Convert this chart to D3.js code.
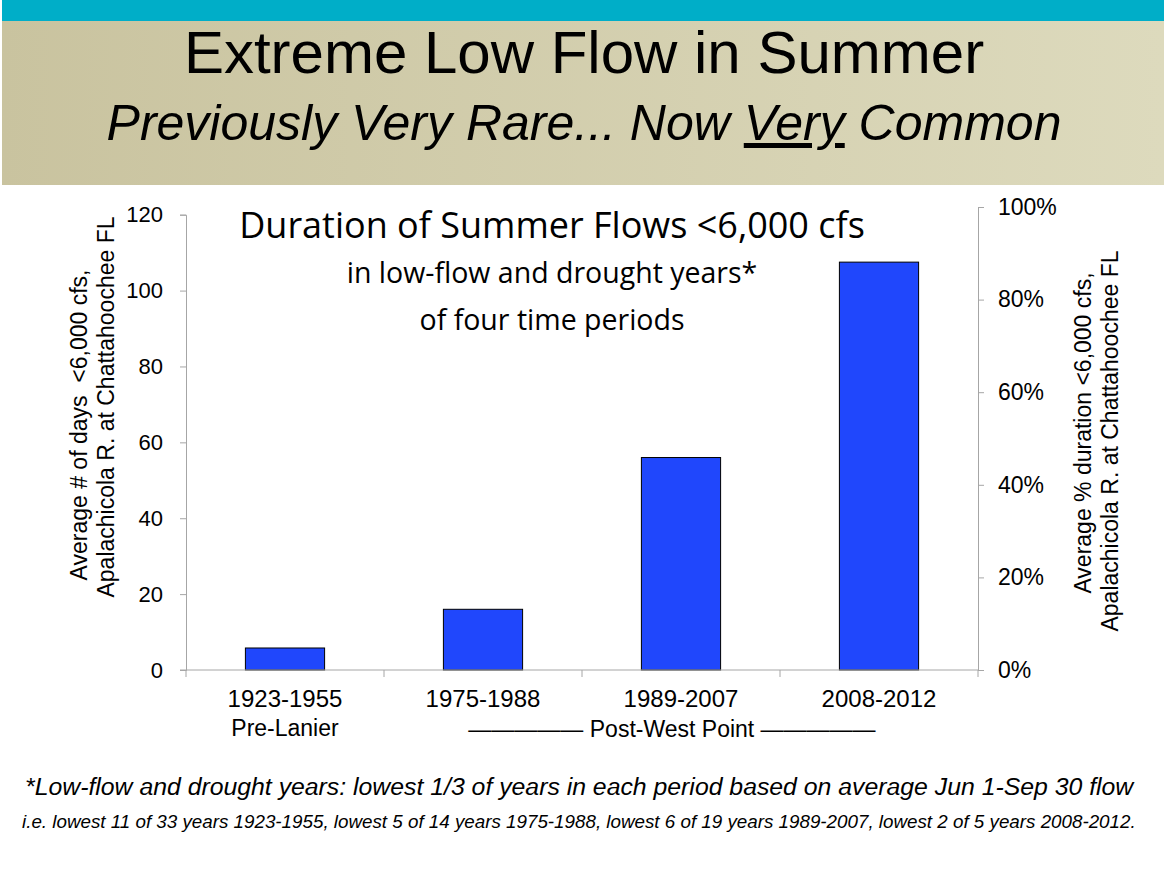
<!DOCTYPE html>
<html>
<head>
<meta charset="utf-8">
<script src="https://cdn.jsdelivr.net/npm/d3@7"></script>
<style>
  body { margin: 0; background: #fff; }
  .axis path, .axis line { stroke: #a6a6a6; }
  .axis text { fill: #000; }
</style>
</head>
<body>
<div id="GraphHolder"></div>
<script>
// chart data
var periods = ["1923-1955", "1975-1988", "1989-2007", "2008-2012"];
var avgDays = [5.8, 16.0, 56.0, 107.5];
var dayTicks = [0, 20, 40, 60, 80, 100, 120];
var pctTicks = [0, 0.2, 0.4, 0.6, 0.8, 1.0];
var subLabels = ["Pre-Lanier"];

var W = 1164, H = 875;
var plot = {left: 186, right: 978, top: 214.7, bottom: 670};

var svg = d3.select("#GraphHolder").append("svg")
    .attr("width", W)
    .attr("height", H);

// header background
var defs = svg.append("defs");
var grad = defs.append("linearGradient").attr("id", "hdr")
    .attr("x1", "0%").attr("x2", "100%").attr("y1", "0%").attr("y2", "0%");
grad.append("stop").attr("offset", "0%").attr("stop-color", "#c9c39f");
grad.append("stop").attr("offset", "100%").attr("stop-color", "#dddabd");

svg.append("rect").attr("x", 2).attr("y", 20).attr("width", W - 2).attr("height", 165)
    .attr("fill", "url(#hdr)");
svg.append("rect").attr("x", 2).attr("y", 0).attr("width", W - 2).attr("height", 21)
    .attr("fill", "#00aec8");

svg.append("text")
    .attr("x", 584).attr("y", 73)
    .attr("text-anchor", "middle")
    .style("font-family", "Liberation Sans, Arial, sans-serif")
    .style("font-size", "60px")
    .text("Extreme Low Flow in Summer");

var sub = svg.append("text")
    .attr("x", 584).attr("y", 140)
    .attr("text-anchor", "middle")
    .style("font-family", "Liberation Sans, Arial, sans-serif")
    .style("font-size", "50px")
    .style("font-style", "italic");
sub.append("tspan").text("Previously Very Rare... Now ");
sub.append("tspan").style("text-decoration", "underline").text("Very");
sub.append("tspan").text(" Common");

// scales
var x = d3.scaleBand()
    .domain(periods)
    .range([plot.left, plot.right])
    .paddingInner(0.6)
    .paddingOuter(0.3);
var y = d3.scaleLinear().domain([0, 120]).range([plot.bottom, plot.top]);
var yPct = d3.scaleLinear().domain([0, 1]).range([plot.bottom, 207]);

// bars
svg.selectAll(".bar")
    .data(avgDays)
    .enter().append("rect")
    .attr("class", "bar")
    .attr("x", function(d, i) { return x(periods[i]); })
    .attr("width", x.bandwidth())
    .attr("y", function(d) { return y(d); })
    .attr("height", function(d) { return y(0) - y(d); })
    .style("fill", "#2047fc")
    .style("stroke", "#000")
    .style("stroke-width", 1);

// left axis
var yAxisG = svg.append("g")
    .attr("class", "axis")
    .attr("transform", "translate(" + plot.left + ",0)")
    .call(d3.axisLeft(y).tickValues(dayTicks).tickSizeOuter(0).tickSize(6).tickPadding(17));
yAxisG.selectAll("text")
    .style("font-family", "Liberation Sans, Arial, sans-serif")
    .style("font-size", "22px");

// right axis
var yRightG = svg.append("g")
    .attr("class", "axis")
    .attr("transform", "translate(" + plot.right + ",0)")
    .call(d3.axisRight(yPct).tickValues(pctTicks).tickFormat(d3.format(".0%"))
        .tickSizeOuter(0).tickSize(6).tickPadding(14));
yRightG.selectAll("text")
    .style("font-family", "Liberation Sans, Arial, sans-serif")
    .style("font-size", "23px");

// bottom axis
svg.append("line")
    .attr("x1", 180).attr("x2", plot.right)
    .attr("y1", plot.bottom).attr("y2", plot.bottom)
    .style("stroke", "#a6a6a6");
var boundaries = periods.map(function(p) { return x(p) - x.step() * x.paddingInner() / 2; });
boundaries[0] = plot.left;
boundaries.push(plot.right);
svg.selectAll(".xtick")
    .data(boundaries)
    .enter().append("line")
    .attr("class", "xtick")
    .attr("x1", function(d) { return d; }).attr("x2", function(d) { return d; })
    .attr("y1", plot.bottom).attr("y2", plot.bottom + 7)
    .style("stroke", "#a6a6a6");

svg.selectAll(".xlabel")
    .data(periods)
    .enter().append("text")
    .attr("class", "xlabel")
    .attr("x", function(d) { return x(d) + x.bandwidth() / 2; })
    .attr("y", 707)
    .attr("text-anchor", "middle")
    .style("font-family", "Liberation Sans, Arial, sans-serif")
    .style("font-size", "24px")
    .text(function(d) { return d; });

svg.append("text")
    .attr("x", x(periods[0]) + x.bandwidth() / 2)
    .attr("y", 736)
    .attr("text-anchor", "middle")
    .style("font-family", "Liberation Sans, Arial, sans-serif")
    .style("font-size", "23px")
    .text(subLabels[0]);

svg.append("text")
    .attr("x", 672)
    .attr("y", 737)
    .attr("text-anchor", "middle")
    .style("font-family", "Liberation Sans, Arial, sans-serif")
    .style("font-size", "23px")
    .text("\u2014\u2014\u2014\u2014\u2014 Post-West Point \u2014\u2014\u2014\u2014\u2014");

// axis titles
function vtitle(bx, cy, txt) {
    svg.append("text")
        .attr("transform", "translate(" + bx + "," + cy + ") rotate(-90)")
        .attr("text-anchor", "middle")
        .style("font-family", "Liberation Sans, Arial, sans-serif")
        .style("font-size", "23px")
        .style("white-space", "pre")
        .text(txt);
}
vtitle(87, 425, "Average # of days  <6,000 cfs,");
vtitle(114, 407, "Apalachicola R. at Chattahoochee FL");
vtitle(1091, 433, "Average % duration <6,000 cfs,");
vtitle(1118, 441, "Apalachicola R. at Chattahoochee FL");

// in-chart title
svg.append("text")
    .attr("x", 552).attr("y", 238)
    .attr("text-anchor", "middle")
    .style("font-family", "Open Sans, sans-serif")
    .style("font-size", "36px")
    .text("Duration of Summer Flows <6,000 cfs");
svg.append("text")
    .attr("x", 552).attr("y", 283)
    .attr("text-anchor", "middle")
    .style("font-family", "Open Sans, sans-serif")
    .style("font-size", "28.5px")
    .text("in low-flow and drought years*");
svg.append("text")
    .attr("x", 552).attr("y", 330)
    .attr("text-anchor", "middle")
    .style("font-family", "Open Sans, sans-serif")
    .style("font-size", "28.5px")
    .text("of four time periods");

// footnotes
svg.append("text")
    .attr("x", 25).attr("y", 795)
    .style("font-family", "Liberation Sans, Arial, sans-serif")
    .style("font-size", "24.8px")
    .style("font-style", "italic")
    .text("*Low-flow and drought years: lowest 1/3 of years in each period based on average Jun 1-Sep 30 flow");
svg.append("text")
    .attr("x", 22).attr("y", 828)
    .style("font-family", "Liberation Sans, Arial, sans-serif")
    .style("font-size", "18.8px")
    .style("font-style", "italic")
    .text("i.e. lowest 11 of 33 years 1923-1955, lowest 5 of 14 years 1975-1988, lowest 6 of 19 years 1989-2007, lowest 2 of 5 years 2008-2012.");
</script>
</body>
</html>
